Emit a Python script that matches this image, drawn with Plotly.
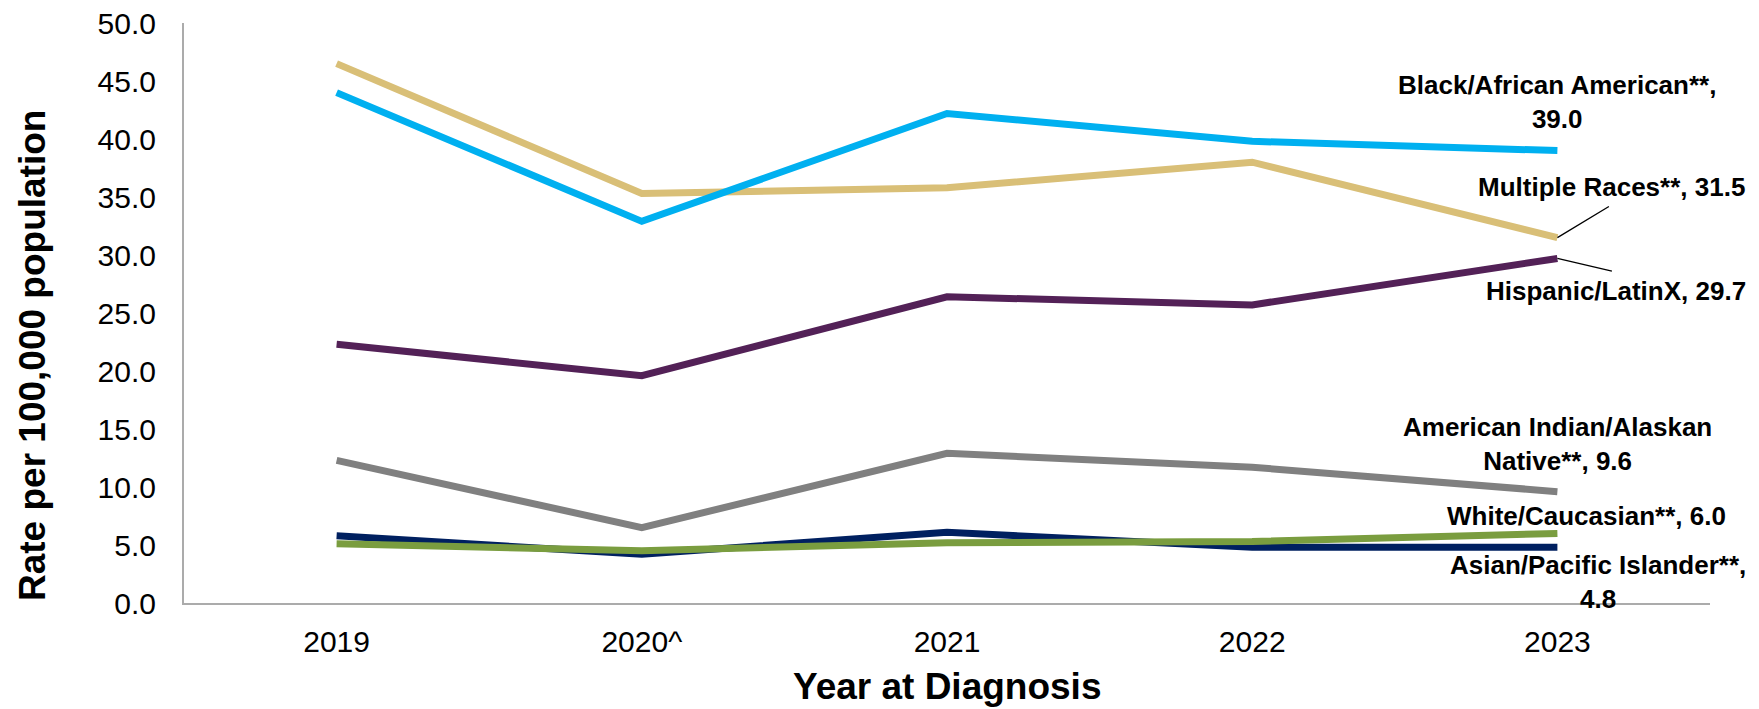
import plotly.graph_objects as go

years = ["2019", "2020^", "2021", "2022", "2023"]

black = [44.0, 32.9, 42.2, 39.8, 39.0]
multiple = [46.5, 35.3, 35.8, 38.0, 31.5]
hispanic = [22.3, 19.6, 26.4, 25.7, 29.7]
aian = [12.3, 6.5, 12.9, 11.7, 9.6]
asian = [5.8, 4.2, 6.1, 4.8, 4.8]
white = [5.1, 4.5, 5.2, 5.3, 6.0]

names = ["Multiple Races**", "Black/African American**", "Hispanic/LatinX",
         "American Indian/Alaskan Native**", "Asian/Pacific Islander**", "White/Caucasian**"]
series = [multiple, black, hispanic, aian, asian, white]
colors = ["#D9BF77", "#00B0F0", "#532157", "#808080", "#002060", "#7A9D3F"]

y_ticks = [0, 5, 10, 15, 20, 25, 30, 35, 40, 45, 50]

FONT = "Liberation Sans, Arial, sans-serif"

# page body has an 8px default margin: figure is sized so the page still fits 1759x709
W, H = 1751, 701
ML, MR, MT, MB = 176, 49, 15, 106
PW, PH = W - ML - MR, H - MT - MB

fig = go.Figure()
for n, s, c in zip(names, series, colors):
    fig.add_trace(go.Scatter(x=years, y=s, name=n, mode="lines",
                             line=dict(color=c, width=7), showlegend=False))

lab_font = dict(family=FONT, size=26, color="black")
last = len(years) - 1  # category index of the last year

def label(text, y, xshift=0):
    fig.add_annotation(x=last, y=y, xref="x", yref="y", text=text, showarrow=False,
                       xshift=xshift, font=lab_font, align="center",
                       xanchor="center", yanchor="middle")

label("<b>Black/African American**,<br>%.1f</b>" % black[-1], 43.17)
label("<b>Multiple Races**, %.1f</b>" % multiple[-1], 35.9, 54)
label("<b>Hispanic/LatinX, %.1f</b>" % hispanic[-1], 26.86, 59)
label("<b>American Indian/Alaskan<br>Native**, %.1f</b>" % aian[-1], 13.75)
label("<b>White/Caucasian**, %.1f</b>" % white[-1], 7.47, 29)
label("<b>Asian/Pacific Islander**,<br>%.1f</b>" % asian[-1], 1.79, 41)

# leader lines (arrow tails in pixel offsets from the end points)
def leader(y, ax, ay):
    fig.add_annotation(x=last, y=y, xref="x", yref="y", text=" ", showarrow=True,
                       ax=ax, ay=ay, arrowhead=0, arrowwidth=1.3, arrowcolor="black",
                       font=dict(size=1), standoff=0, startstandoff=0)

leader(multiple[-1], 53, -32)
leader(hispanic[-1], 56, 13)

fig.update_layout(
    width=W, height=H,
    margin=dict(l=ML, r=MR, t=MT, b=MB, autoexpand=False),
    paper_bgcolor="white", plot_bgcolor="white",
    font=dict(family=FONT, color="black"),
)
fig.update_xaxes(type="category", categoryorder="array", categoryarray=years,
                 range=[-0.5, 4.5], showgrid=False, showline=True, linecolor="#ABABAB",
                 linewidth=2, ticks="", tickfont=dict(size=30, family=FONT, color="black"),
                 ticklabelstandoff=11, zeroline=False, automargin=False,
                 ticklabeloverflow="allow")
fig.update_yaxes(range=[0, 50], tickvals=y_ticks, tickformat=".1f", showgrid=False,
                 showline=True, linecolor="#ABABAB", linewidth=2, ticks="",
                 tickfont=dict(size=30, family=FONT, color="black"),
                 ticklabelstandoff=20, zeroline=False, automargin=False,
                 ticklabeloverflow="allow")

fig.add_annotation(text="<b>Year at Diagnosis</b>", xref="paper", yref="paper",
                   x=0.5, y=(H - MB - 678) / PH, xanchor="center", yanchor="middle",
                   showarrow=False, font=dict(family=FONT, size=37, color="black"))
fig.add_annotation(text="<b>Rate per 100,000 population</b>", xref="paper", yref="paper",
                   x=(24 - ML) / PW, y=(H - MB - 348) / PH,
                   xanchor="center", yanchor="middle", textangle=-90,
                   showarrow=False, font=dict(family=FONT, size=37, color="black"))

fig.write_html("out.html")
